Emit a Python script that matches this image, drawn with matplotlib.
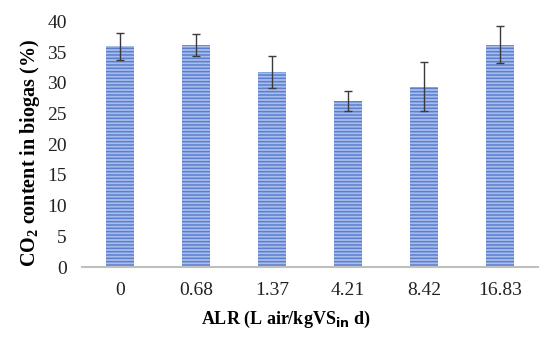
import numpy as np
import matplotlib
matplotlib.use("Agg")
from matplotlib import pyplot as plt

# data
alr = ["0", "0.68", "1.37", "4.21", "8.42", "16.83"]
co2 = [36.0, 36.2, 31.7, 27.0, 29.4, 36.2]
err = [2.2, 1.8, 2.6, 1.6, 4.0, 3.0]

plt.rcParams['font.family'] = ['Liberation Serif', 'DejaVu Serif']
plt.rcParams['hatch.linewidth'] = 1.1

fig = plt.figure(figsize=(5.5, 3.41), dpi=100)
ax = fig.add_axes([0.149, 0.217, 0.829, 0.72])

x = np.arange(len(alr))
ax.bar(x, co2, width=0.37, color='#a9bdea', edgecolor='#5a7fd0',
       linewidth=0, hatch='-----', zorder=2)
ax.errorbar(x, co2, yerr=err, fmt='none', ecolor='#3a3a3a',
            elinewidth=1.0, capsize=3, capthick=1.0, zorder=3)

ax.set_xlim(-0.5, len(alr) - 0.5)
ax.set_ylim(0, 40)
ax.set_yticks(np.arange(0, 41, 5))
ax.set_xticks(x)
ax.set_xticklabels(alr)
ax.tick_params(axis='both', length=0, labelsize=14, colors='#222222')
ax.tick_params(axis='x', pad=11)
ax.tick_params(axis='y', pad=11)

for s in ['top', 'right', 'left']:
    ax.spines[s].set_visible(False)
ax.spines['bottom'].set_color('#bfbfbf')
ax.spines['bottom'].set_linewidth(1.5)

ax.set_ylabel(r'CO$_\mathregular{2}$ content in biogas (%)', fontsize=14.5,
              fontweight='bold')
ax.yaxis.set_label_coords(-0.088, 0.463)
ax.set_xlabel(r'ALR (L air/kgVS$_\mathregular{\mathbf{in}}$ d)', fontsize=13,
              fontweight='bold')
ax.xaxis.set_label_coords(0.447, -0.172)

fig.savefig('out.png', dpi=100)
